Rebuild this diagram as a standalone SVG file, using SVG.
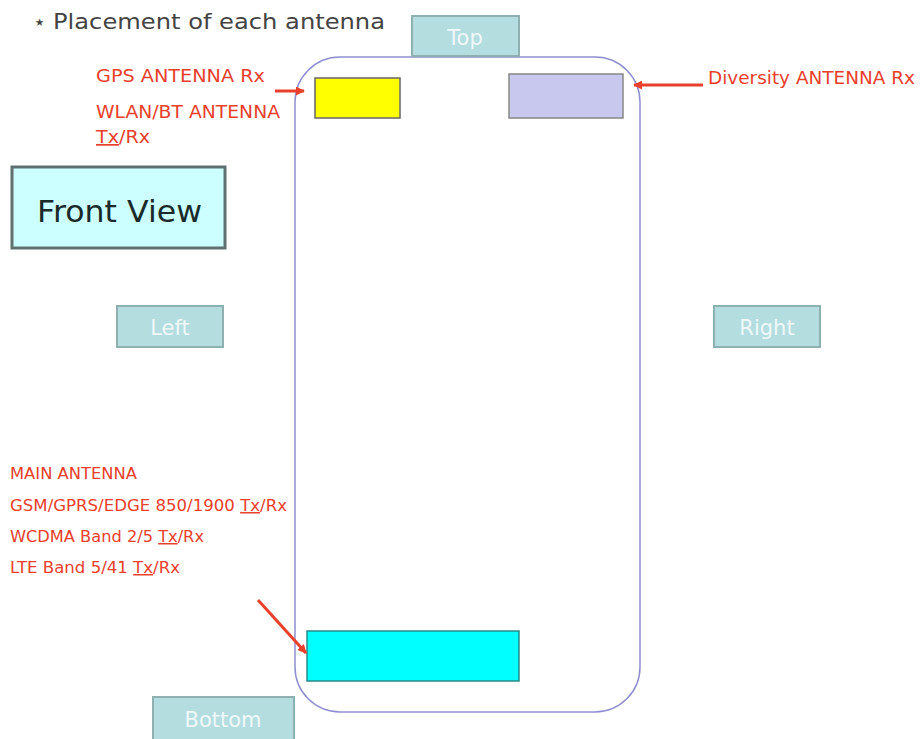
<svg xmlns="http://www.w3.org/2000/svg" width="920" height="739" viewBox="0 0 920 739">
<defs>
<style>
.side{fill:#b4dde0;stroke:#8fb0b0;stroke-width:2}
.sidet{font-family:"DejaVu Sans","Liberation Sans",sans-serif;font-size:21px;fill:#eef8f8;text-anchor:middle}
.red{font-family:"DejaVu Sans","Liberation Sans",sans-serif;fill:#e8402a}
.ul{text-decoration:underline}
.arr{stroke:#e8402a;stroke-width:3;fill:none}
</style>
<marker id="ah" viewBox="0 0 10 10" refX="9" refY="5" markerWidth="3" markerHeight="3" orient="auto" markerUnits="strokeWidth">
<path d="M0,0 L10,5 L0,10 z" fill="#e8402a"/>
</marker>
</defs>
<rect width="920" height="739" fill="#ffffff"/>
<text x="33" y="29" font-family="DejaVu Sans,Liberation Sans,sans-serif" font-size="21" fill="#444">⋆<tspan x="53" textLength="332" lengthAdjust="spacingAndGlyphs">Placement of each antenna</tspan></text>

<g id="phone"><rect x="295" y="57" width="345" height="655" rx="45" fill="#fff" stroke="#8f8fd0" stroke-width="1.5"/></g>

<g id="top"><rect class="side" x="412" y="16" width="107" height="40"/><text class="sidet" x="465" y="45">Top</text></g>
<g id="left"><rect class="side" x="117" y="306" width="106" height="41"/><text class="sidet" x="170" y="335">Left</text></g>
<g id="right"><rect class="side" x="714" y="306" width="106" height="41"/><text class="sidet" x="767" y="335">Right</text></g>
<g id="bottom"><rect class="side" x="153" y="697" width="141" height="44"/><text class="sidet" x="223" y="727">Bottom</text></g>

<g id="frontview"><rect x="12" y="167" width="213" height="81" fill="#ccffff" stroke="#607070" stroke-width="3"/><text x="37" y="222" font-family="DejaVu Sans,Liberation Sans,sans-serif" font-size="31" fill="#1a2a2a" textLength="165" lengthAdjust="spacingAndGlyphs">Front View</text></g>

<g id="gps"><rect x="315" y="78" width="85" height="40" fill="#ffff00" stroke="#666" stroke-width="1.5"/></g>
<g id="diversity"><rect x="509" y="74" width="114" height="44" fill="#c8c8ee" stroke="#888" stroke-width="1.5"/></g>
<g id="main"><rect x="307" y="631" width="212" height="50" fill="#00ffff" stroke="#2a8a8a" stroke-width="1.5"/></g>

<g id="labels">
<text class="red" x="96" y="82" font-size="17" textLength="169" lengthAdjust="spacingAndGlyphs">GPS ANTENNA Rx</text>
<text class="red" x="96" y="118" font-size="17" textLength="184" lengthAdjust="spacingAndGlyphs">WLAN/BT ANTENNA</text>
<text class="red" x="96" y="143" font-size="17" textLength="54" lengthAdjust="spacingAndGlyphs"><tspan class="ul">Tx</tspan>/Rx</text>
<text class="red" x="708" y="84" font-size="17" textLength="207" lengthAdjust="spacingAndGlyphs">Diversity ANTENNA Rx</text>
<text class="red" x="10" y="479" font-size="15" textLength="127" lengthAdjust="spacingAndGlyphs">MAIN ANTENNA</text>
<text class="red" x="10" y="511" font-size="15" textLength="277" lengthAdjust="spacingAndGlyphs">GSM/GPRS/EDGE 850/1900 <tspan class="ul">Tx</tspan>/Rx</text>
<text class="red" x="10" y="542" font-size="15" textLength="194" lengthAdjust="spacingAndGlyphs">WCDMA Band 2/5 <tspan class="ul">Tx</tspan>/Rx</text>
<text class="red" x="10" y="573" font-size="15" textLength="170" lengthAdjust="spacingAndGlyphs">LTE Band 5/41 <tspan class="ul">Tx</tspan>/Rx</text>
</g>

<g id="connectors">
<line class="arr" x1="275" y1="91" x2="304" y2="91" marker-end="url(#ah)"/>
<line class="arr" x1="703" y1="85" x2="634" y2="85" marker-end="url(#ah)"/>
<line class="arr" x1="258" y1="600" x2="306" y2="653" marker-end="url(#ah)"/>
</g>
</svg>
